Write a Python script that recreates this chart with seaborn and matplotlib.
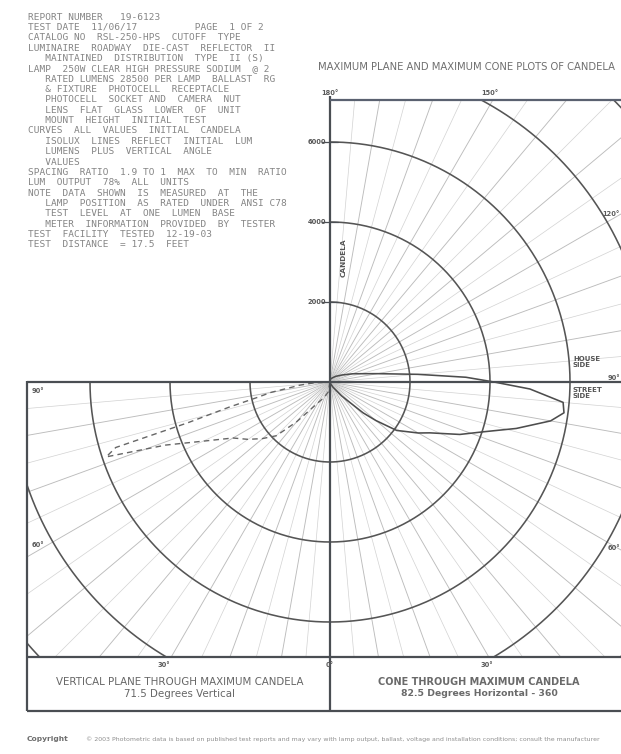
import numpy as np
import pandas as pd
import matplotlib
matplotlib.use("Agg")
import matplotlib.pyplot as plt
from matplotlib.patches import Rectangle
import seaborn as sns

# Candela distribution in the cone through maximum candela
# (angle measured from nadir, 90 = street side horizontal, 180 = straight up)
cone_angles = [0, 20, 30, 40, 43, 47, 50, 54, 60, 63, 68, 72, 76, 80, 82.5, 85, 88, 90, 92, 95, 100, 105, 110, 120, 135, 150, 165, 180]
cone_candela = [0, 50, 150, 450, 620, 1130, 1500, 2060, 2550, 2800, 3500, 4030, 4800, 5600, 5900, 5850, 5000, 4100, 3400, 2200, 1200, 800, 600, 350, 200, 120, 80, 60]

# Candela distribution in the vertical plane through maximum candela
vert_angles = [0, 10, 20, 30, 40, 45, 50, 55, 60, 65, 69, 71.5, 73, 74, 76, 78, 80, 84, 87, 90]
vert_candela = [0, 250, 400, 600, 1300, 1900, 2200, 2500, 2800, 3500, 4400, 5900, 5600, 3700, 2600, 1860, 1500, 750, 400, 0]

# Candela rings and tick values
ring_values = [2000, 4000, 6000, 8000, 10000]
axis_ticks = [2000, 4000, 6000]

header_lines = [
    "REPORT NUMBER   19-6123",
    "TEST DATE  11/06/17          PAGE  1 OF 2",
    "CATALOG NO  RSL-250-HPS  CUTOFF  TYPE",
    "LUMINAIRE  ROADWAY  DIE-CAST  REFLECTOR  II",
    "   MAINTAINED  DISTRIBUTION  TYPE  II (S)",
    "LAMP  250W CLEAR HIGH PRESSURE SODIUM  @ 2",
    "   RATED LUMENS 28500 PER LAMP  BALLAST  RG",
    "   & FIXTURE  PHOTOCELL  RECEPTACLE",
    "   PHOTOCELL  SOCKET AND  CAMERA  NUT",
    "   LENS  FLAT  GLASS  LOWER  OF  UNIT",
    "   MOUNT  HEIGHT  INITIAL  TEST",
    "CURVES  ALL  VALUES  INITIAL  CANDELA",
    "   ISOLUX  LINES  REFLECT  INITIAL  LUM",
    "   LUMENS  PLUS  VERTICAL  ANGLE",
    "   VALUES",
    "SPACING  RATIO  1.9 TO 1  MAX  TO  MIN  RATIO",
    "LUM  OUTPUT  78%  ALL  UNITS",
    "NOTE  DATA  SHOWN  IS  MEASURED  AT  THE",
    "   LAMP  POSITION  AS  RATED  UNDER  ANSI C78",
    "   TEST  LEVEL  AT  ONE  LUMEN  BASE",
    "   METER  INFORMATION  PROVIDED  BY  TESTER",
    "TEST  FACILITY  TESTED  12-19-03",
    "TEST  DISTANCE  = 17.5  FEET",
]

title = "MAXIMUM PLANE AND MAXIMUM CONE PLOTS OF CANDELA"
left_caption = ["VERTICAL PLANE THROUGH MAXIMUM CANDELA", "71.5 Degrees Vertical"]
right_caption = ["CONE THROUGH MAXIMUM CANDELA", "82.5 Degrees Horizontal - 360"]
footer_lead = "Copyright"
footer_text = ("\u00a9 2003 Photometric data is based on published test reports and may vary with lamp output, "
               "ballast, voltage and installation conditions; consult the manufacturer")

sns.set_theme(style="white")
plt.rcParams["font.family"] = ["DejaVu Sans"]

W, H = 621, 754
fig = plt.figure(figsize=(W / 100, H / 100), dpi=100)
ax = fig.add_axes([0, 0, 1, 1])

# page pixel -> candela coordinates (1 px = 25 cd, origin at the lamp centre)
OX, OY, S = 330, 382, 25.0


def P(px, py):
    return (px - OX) * S, (OY - py) * S


ax.set_xlim(P(0, 0)[0], P(W, 0)[0])
ax.set_ylim(P(0, H)[1], P(0, 0)[1])
ax.axis("off")

ink = "#4a4e53"

upper_clip = Rectangle(P(330, 382), 310 * S, 282 * S, transform=ax.transData)
lower_clip = Rectangle(P(27, 657), 613 * S, 275 * S, transform=ax.transData)

# radial angle lines
for ang in range(-90, 181, 5):
    t = np.radians(ang)
    R = 20000
    clip = upper_clip if ang > 90 else lower_clip
    strong = ang % 10 == 0
    ln, = ax.plot([0, R * np.sin(t)], [0, -R * np.cos(t)],
                  color="#bcbcbc" if strong else "#d2d2d2", lw=0.65 if strong else 0.5, zorder=1)
    ln.set_clip_path(clip)
    if ang == 90:
        ln2, = ax.plot([0, R], [0, 0], color="#bcbcbc", lw=0.65, zorder=1)
        ln2.set_clip_path(upper_clip)

# candela rings
for rv in ring_values:
    tu = np.radians(np.linspace(90, 180, 200))
    l1, = ax.plot(rv * np.sin(tu), -rv * np.cos(tu), color="#555555", lw=1.15, zorder=2)
    l1.set_clip_path(upper_clip)
    tl = np.radians(np.linspace(-90, 90, 400))
    l2, = ax.plot(rv * np.sin(tl), -rv * np.cos(tl), color="#555555", lw=1.15, zorder=2)
    l2.set_clip_path(lower_clip)

# distribution curves
ca = np.radians(cone_angles)
cone_df = pd.DataFrame({"x": np.array(cone_candela) * np.sin(ca),
                        "y": -np.array(cone_candela) * np.cos(ca)})
sns.lineplot(data=cone_df, x="x", y="y", sort=False, estimator=None,
             color="#4d4d4d", lw=1.15, ax=ax, zorder=4)

va = np.radians(vert_angles)
vert_df = pd.DataFrame({"x": -np.array(vert_candela) * np.sin(va),
                        "y": -np.array(vert_candela) * np.cos(va)})
sns.lineplot(data=vert_df, x="x", y="y", sort=False, estimator=None,
             color="#666666", lw=1.0, linestyle=(0, (4, 3)), ax=ax, zorder=4)
ax.set_xlabel("")
ax.set_ylabel("")
ax.axis("off")


# frame lines
def seg(p0, p1, lw=1.6, c=ink):
    a, b = P(*p0), P(*p1)
    ax.plot([a[0], b[0]], [a[1], b[1]], color=c, lw=lw, zorder=5, solid_capstyle="butt")


seg((330, 96), (330, 711))
seg((330, 100), (640, 100), c="#5a6170")
seg((27, 382), (640, 382))
seg((27, 381), (27, 711))
seg((27, 657), (640, 657))
seg((27, 711), (640, 711))

# candela axis ticks and labels
for tv in axis_ticks:
    ax.plot([-8 * S, 8 * S], [tv, tv], color=ink, lw=0.9, zorder=5)
    ax.text(-4 * S, tv, f"{tv}", ha="right", va="center", fontsize=4.8,
            fontweight="bold", color="#555555", zorder=6)
ax.text(*P(344, 258), "CANDELA", rotation=90, ha="center", va="center",
        fontsize=5.3, fontweight="bold", color="#555555")

# angle labels
lab_kw = dict(fontsize=4.8, fontweight="bold", color="#5a5a5a", zorder=6)
ax.text(*P(330, 93), "180\u00b0", ha="center", va="center", **lab_kw)
ax.text(*P(490, 93), "150\u00b0", ha="center", va="center", **lab_kw)
ax.text(*P(620, 214), "120\u00b0", ha="right", va="center", **lab_kw)
ax.text(*P(620, 378), "90\u00b0", ha="right", va="center", **lab_kw)
ax.text(*P(620, 548), "60\u00b0", ha="right", va="center", **lab_kw)
ax.text(*P(487, 665), "30\u00b0", ha="center", va="center", **lab_kw)
ax.text(*P(330, 665), "0\u00b0", ha="center", va="center", **lab_kw)
ax.text(*P(164, 665), "30\u00b0", ha="center", va="center", **lab_kw)
ax.text(*P(32, 545), "60\u00b0", ha="left", va="center", **lab_kw)
ax.text(*P(32, 391), "90\u00b0", ha="left", va="center", **lab_kw)

side_kw = dict(fontsize=5.0, fontweight="bold", color="#555555", ha="left", va="center", zorder=6,
               linespacing=1.05)
ax.text(*P(573, 362), "HOUSE\nSIDE", **side_kw)
ax.text(*P(573, 393), "STREET\nSIDE", **side_kw)

# title and captions
ax.text(*P(318, 67), title, ha="left", va="center", fontsize=7.2, color="#6e6e6e")
ax.text(*P(180, 682), left_caption[0], ha="center", va="center", fontsize=7.4, color="#666666")
ax.text(*P(179, 694), left_caption[1], ha="center", va="center", fontsize=7.4, color="#666666")
ax.text(*P(479, 682), right_caption[0], ha="center", va="center", fontsize=7.0,
        fontweight="bold", color="#6a6a6a")
ax.text(*P(479, 694), right_caption[1], ha="center", va="center", fontsize=6.7,
        fontweight="bold", color="#6a6a6a")

# report header block
for i, line in enumerate(header_lines):
    ax.text(*P(28, 17 + i * 10.36), line, ha="left", va="center", family="DejaVu Sans Mono",
            fontsize=6.8, color="#858585")

# footer
ax.text(*P(27, 739), footer_lead, ha="left", va="center", fontsize=5.4, color="#6e6e6e",
        fontweight="bold")
ax.text(*P(86, 739), footer_text, ha="left", va="center", fontsize=4.5, color="#8e8e8e")

fig.savefig("out.png", dpi=100, facecolor="white")
